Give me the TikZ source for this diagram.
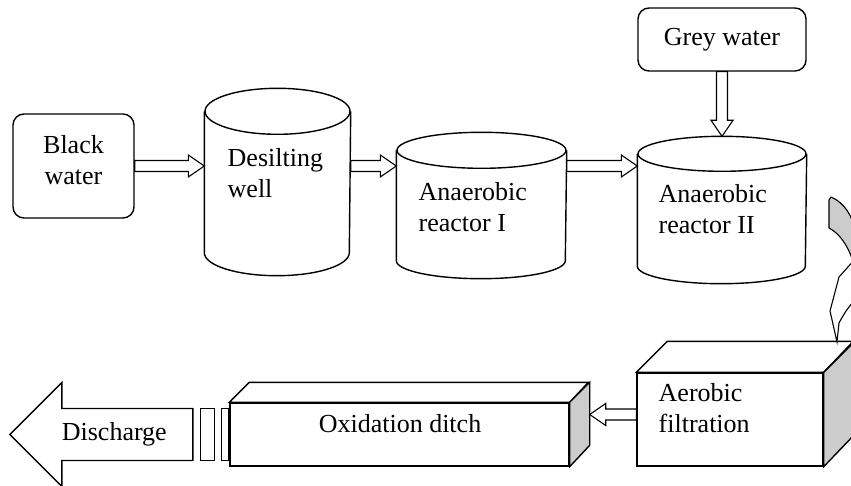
\documentclass[tikz,border=0pt]{standalone}
\usepackage{fontspec}
\setmainfont{Liberation Serif}
\usetikzlibrary{positioning, calc, shapes.arrows}

\begin{document}
\begin{tikzpicture}[
  x=1pt, y=-1pt,
  font=\fontsize{26}{31}\selectfont,
  line width=1.4pt,
  box/.style={draw, rounded corners=11pt, inner sep=0pt},
  body/.style={inner sep=0pt},
  tank/.style={draw},
  face/.style={draw, fill=white, inner sep=0pt},
  side/.style={draw, fill=gray!40},
  txt/.style={inner sep=0pt, align=left, anchor=north west},
  seg/.style={draw, inner sep=0pt, minimum height=52pt},
  outlet/.style={single arrow, draw, fill=white, shape border rotate=180,
    inner xsep=0pt, inner ysep=13.5pt,
    minimum height=183pt, minimum width=103pt, single arrow head extend=26pt},
  pipe/.style={draw, fill=white, line width=1.1pt, to path={
    ($(\tikztostart)!5.5pt!90:(\tikztotarget)$)
    -- ($(\tikztotarget)!16pt!(\tikztostart)!5.5pt!90:(\tikztotarget)$)
    -- ($(\tikztotarget)!16pt!(\tikztostart)!11pt!90:(\tikztotarget)$)
    -- (\tikztotarget)
    -- ($(\tikztotarget)!16pt!(\tikztostart)!11pt!-90:(\tikztotarget)$)
    -- ($(\tikztotarget)!16pt!(\tikztostart)!5.5pt!-90:(\tikztotarget)$)
    -- ($(\tikztostart)!5.5pt!-90:(\tikztotarget)$) -- cycle}}
]
  \useasboundingbox (0,0) rectangle (851,486);
  \clip (0,0) rectangle (851,486);

  % Black water (left side)
  \node[box, minimum width=121pt, minimum height=104pt] (black) at (73.5,166) {};
  \node[txt, align=center, anchor=north] (blacktxt) at (73.5,135) {Black\\water};

  % Desilting well
  \node[body, minimum width=145pt, minimum height=186pt] (desilt) at (277.5,182) {};
  \draw[tank] ([yshift=-23pt]desilt.north west) -- ([yshift=23pt]desilt.south west)
    arc[start angle=180, end angle=360, x radius=72.5pt, y radius=23pt] -- ([yshift=-23pt]desilt.north east);
  \draw[tank] ([yshift=-23pt]desilt.north) ellipse[x radius=72.5pt, y radius=23pt];
  \node[txt] (desilttxt) at (227,148) {Desilting\\well};

  % Anaerobic reactor I
  \node[body, minimum width=169pt, minimum height=145pt] (ana1) at (481.5,205.5) {};
  \draw[tank] ([yshift=-18pt]ana1.north west) -- ([yshift=18pt]ana1.south west)
    arc[start angle=180, end angle=360, x radius=84.5pt, y radius=18pt] -- ([yshift=-18pt]ana1.north east);
  \draw[tank] ([yshift=-18pt]ana1.north) ellipse[x radius=84.5pt, y radius=18pt];
  \node[txt] (ana1txt) at (418,182) {Anaerobic\\reactor I};

  % Anaerobic reactor II
  \node[body, minimum width=168pt, minimum height=146pt] (ana2) at (722,210) {};
  \draw[tank] ([yshift=-17.5pt]ana2.north west) -- ([yshift=17.5pt]ana2.south west)
    arc[start angle=180, end angle=360, x radius=84pt, y radius=17.5pt] -- ([yshift=-17.5pt]ana2.north east);
  \draw[tank] ([yshift=-17.5pt]ana2.north) ellipse[x radius=84pt, y radius=17.5pt];
  \node[txt] (ana2txt) at (658,184) {Anaerobic\\reactor II};

  % Grey water
  \node[box, minimum width=168pt, minimum height=63pt] (grey) at (722,39.5) {Grey water};

  % Aerobic filtration
  \node[face, minimum width=186pt, minimum height=93pt] (aer) at (730,419.5) {};
  \draw[face] (aer.north west) -- ++(31,-31) -- ++(186,0) -- (aer.north east) -- cycle;
  \draw[side] (aer.north east) -- ++(31,-31) -- ++(0,93) -- (aer.south east) -- cycle;
  \node[txt] (aertxt) at (658,383) {Aerobic\\filtration};

  % Oxidation ditch
  \node[face, minimum width=339pt, minimum height=63pt] (ditch) at (399.5,434.5) {};
  \draw[face] (ditch.north west) -- ++(20,-20) -- ++(339,0) -- (ditch.north east) -- cycle;
  \draw[side] (ditch.north east) -- ++(20,-20) -- ++(0,63) -- (ditch.south east) -- cycle;
  \coordinate (ditchback) at ([shift={(20pt,20pt)}]ditch.east);
  \node[inner sep=0pt, anchor=base] (ditchtxt) at (400,432) {Oxidation ditch};

  % Outlet
  \node[seg, minimum width=7pt, left=0pt of ditch] (seg2) {};
  \node[seg, minimum width=14pt, left=6pt of seg2] (seg1) {};
  \node[outlet, anchor=tail] (dis) at ([xshift=-6pt]seg1.west) {Discharge};

  % Flow arrows
  \draw[pipe] (black.east) to (black.east -| desilt.west);
  \draw[pipe] (black.east -| desilt.east) to (black.east -| ana1.west);
  \draw[pipe] (black.east -| ana1.east) to (black.east -| ana2.west);
  \draw[pipe] (grey.south) to (ana2.north);
  \draw[pipe] ([yshift=5pt]aer.west) to ([yshift=5pt]aer.west -| ditchback);

  % Curved arrow down to the filter
  \draw[side, line width=1.1pt] (831,197) .. controls (845,203) and (852,216) .. (856,232)
    -- (856,272) .. controls (851,250) and (841,234) .. (829,228) -- (829,200) -- cycle;
  \draw[face, line width=1.1pt] (856,258) -- (839,277) -- (830,311) -- (837,342)
    -- (839,323) .. controls (845,312) .. (856,298) -- cycle;
\end{tikzpicture}
\end{document}
